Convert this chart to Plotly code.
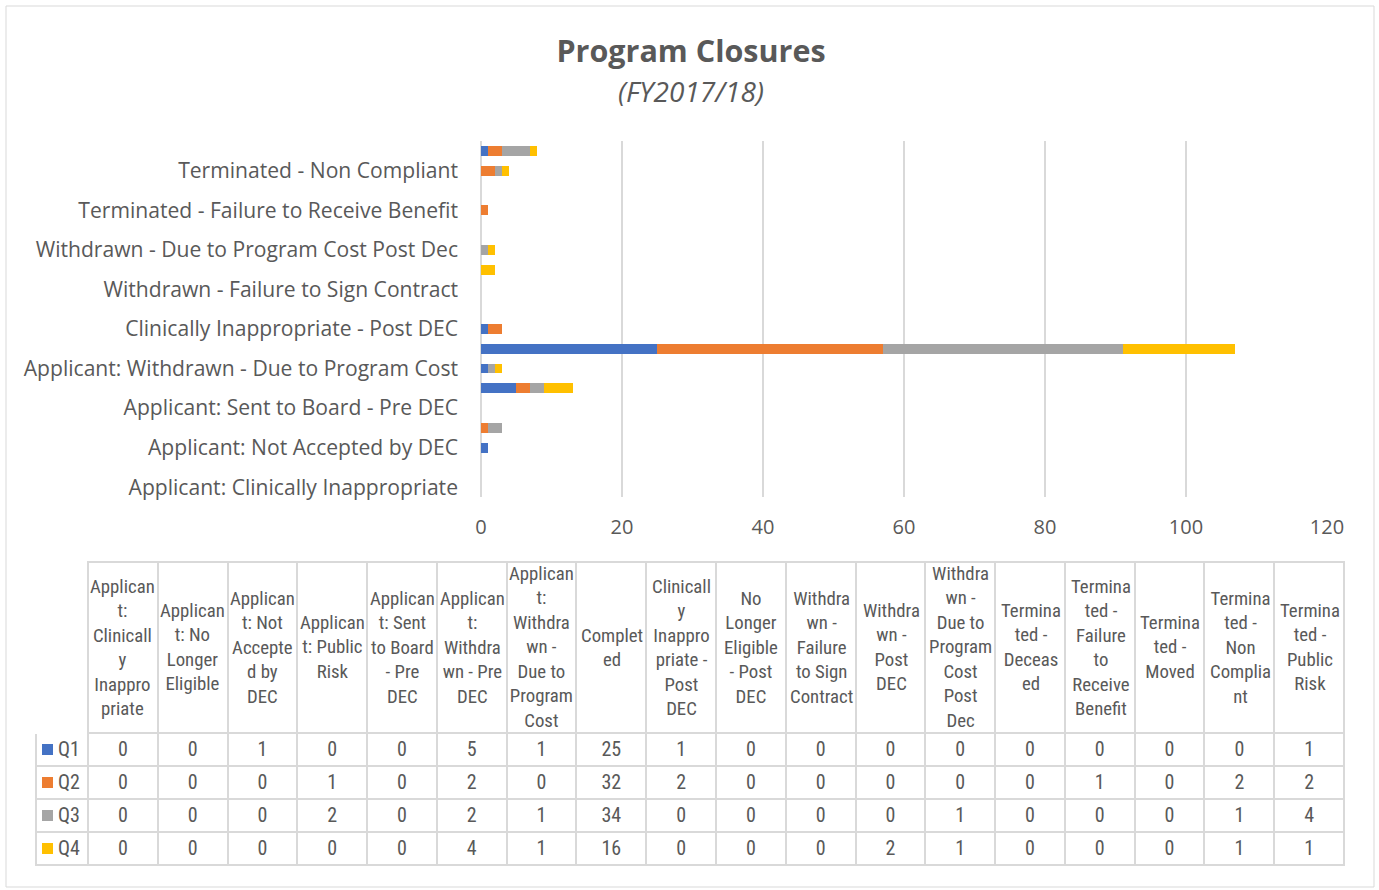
import plotly.graph_objects as go

# ── Data ──────────────────────────────────────────────────────────────────────
CATEGORIES = [
    "Applicant: Clinically Inappropriate",
    "Applicant: No Longer Eligible",
    "Applicant: Not Accepted by DEC",
    "Applicant: Public Risk",
    "Applicant: Sent to Board - Pre DEC",
    "Applicant: Withdrawn - Pre DEC",
    "Applicant: Withdrawn - Due to Program Cost",
    "Completed",
    "Clinically Inappropriate - Post DEC",
    "No Longer Eligible - Post DEC",
    "Withdrawn - Failure to Sign Contract",
    "Withdrawn - Post DEC",
    "Withdrawn - Due to Program Cost Post Dec",
    "Terminated - Deceased",
    "Terminated - Failure to Receive Benefit",
    "Terminated - Moved",
    "Terminated - Non Compliant",
    "Terminated - Public Risk",
]

# column headers as Excel wraps them in the data table
HEADER_LABELS = [
    "Applican<br>t:<br>Clinicall<br>y<br>Inappro<br>priate",
    "Applican<br>t: No<br>Longer<br>Eligible",
    "Applican<br>t: Not<br>Accepte<br>d by<br>DEC",
    "Applican<br>t: Public<br>Risk",
    "Applican<br>t: Sent<br>to Board<br>- Pre<br>DEC",
    "Applican<br>t:<br>Withdra<br>wn - Pre<br>DEC",
    "Applican<br>t:<br>Withdra<br>wn -<br>Due to<br>Program<br>Cost",
    "Complet<br>ed",
    "Clinicall<br>y<br>Inappro<br>priate -<br>Post<br>DEC",
    "No<br>Longer<br>Eligible<br>- Post<br>DEC",
    "Withdra<br>wn -<br>Failure<br>to Sign<br>Contract",
    "Withdra<br>wn -<br>Post<br>DEC",
    "Withdra<br>wn -<br>Due to<br>Program<br>Cost<br>Post<br>Dec",
    "Termina<br>ted -<br>Deceas<br>ed",
    "Termina<br>ted -<br>Failure<br>to<br>Receive<br>Benefit",
    "Termina<br>ted -<br>Moved",
    "Termina<br>ted -<br>Non<br>Complia<br>nt",
    "Termina<br>ted -<br>Public<br>Risk",
]

Q1 = [0, 0, 1, 0, 0, 5, 1, 25, 1, 0, 0, 0, 0, 0, 0, 0, 0, 1]
Q2 = [0, 0, 0, 1, 0, 2, 0, 32, 2, 0, 0, 0, 0, 0, 1, 0, 2, 2]
Q3 = [0, 0, 0, 2, 0, 2, 1, 34, 0, 0, 0, 0, 1, 0, 0, 0, 1, 4]
Q4 = [0, 0, 0, 0, 0, 4, 1, 16, 0, 0, 0, 2, 1, 0, 0, 0, 1, 1]

SERIES_NAMES = ["Q1", "Q2", "Q3", "Q4"]
SERIES_VALUES = [Q1, Q2, Q3, Q4]

# ── Style ─────────────────────────────────────────────────────────────────────
BLUE   = "#4472C4"
ORANGE = "#ED7D31"
GREY   = "#A5A5A5"
GOLD   = "#FFC000"
COLORS = [BLUE, ORANGE, GREY, GOLD]

TEXT   = "#595959"
GRID   = "#D9D9D9"
FONT   = "'Open Sans', 'Noto Sans', sans-serif"
NARROW = "'Liberation Sans Narrow', 'Roboto Condensed', 'DejaVu Sans Condensed', Roboto, sans-serif"

W, H = 1379, 890

# table geometry (pixels)
TBL_X0, TBL_KEY_W, TBL_COL_W = 36, 52, 69.83
TBL_Y0, TBL_HEAD_H, TBL_ROW_H = 562, 171, 33
KEY_SIZE = 11


def px_x(p):
    return p / W


def px_y(p):
    return 1 - p / H


fig = go.Figure()

for name, vals, col in zip(SERIES_NAMES, SERIES_VALUES, COLORS):
    fig.add_trace(go.Bar(
        name=name, y=CATEGORIES, x=vals, orientation="h",
        marker=dict(color=col, line=dict(width=0)),
        showlegend=False,
    ))

# data table under the chart (header text drawn as centred annotations)
ncol = len(CATEGORIES)
cell_cols = [SERIES_NAMES] + [[str(s[i]) for s in SERIES_VALUES] for i in range(ncol)]
tbl_x1 = TBL_X0 + TBL_KEY_W + TBL_COL_W * ncol
tbl_y1 = TBL_Y0 + TBL_HEAD_H + TBL_ROW_H * len(SERIES_NAMES)

fig.add_trace(go.Table(
    domain=dict(x=[px_x(TBL_X0), px_x(tbl_x1)], y=[px_y(tbl_y1 + 2), px_y(TBL_Y0)]),
    columnwidth=[TBL_KEY_W] + [TBL_COL_W] * ncol,
    header=dict(
        values=[""] * (ncol + 1), height=TBL_HEAD_H,
        fill_color="white",
        line=dict(color=["white"] + [GRID] * ncol, width=2),
    ),
    cells=dict(
        values=cell_cols, height=TBL_ROW_H,
        align=["right"] + ["center"] * ncol,
        fill_color="white",
        line=dict(color=GRID, width=2),
        font=dict(family=NARROW, size=20, color=TEXT),
    ),
))

annotations = [dict(
    text="<i>(FY2017/18)</i>", xref="paper", yref="paper",
    x=px_x(691), y=px_y(91), xanchor="center", yanchor="middle",
    showarrow=False, font=dict(family=FONT, size=28, color=TEXT),
)]
for i, lbl in enumerate(HEADER_LABELS):
    annotations.append(dict(
        text=lbl, xref="paper", yref="paper",
        x=px_x(TBL_X0 + TBL_KEY_W + TBL_COL_W * (i + 0.5)),
        y=px_y(TBL_Y0 + TBL_HEAD_H / 2),
        xanchor="center", yanchor="middle", align="center",
        showarrow=False, font=dict(family=NARROW, size=18.8, color=TEXT),
    ))

# legend keys in the first table column
shapes = [dict(
    type="rect", xref="paper", yref="paper",
    x0=px_x(6), x1=px_x(1374), y0=px_y(887), y1=px_y(6),
    line=dict(color=GRID, width=1), layer="below",
)]
for r, col in enumerate(COLORS):
    yc = TBL_Y0 + TBL_HEAD_H + TBL_ROW_H * (r + 0.5)
    shapes.append(dict(
        type="rect", xref="paper", yref="paper",
        x0=px_x(42), x1=px_x(42 + KEY_SIZE),
        y0=px_y(yc + KEY_SIZE / 2), y1=px_y(yc - KEY_SIZE / 2),
        fillcolor=col, line=dict(width=0), layer="above",
    ))

fig.update_layout(
    width=W, height=H,
    margin=dict(l=0, r=0, t=0, b=0, autoexpand=False),
    paper_bgcolor="white", plot_bgcolor="white",
    font=dict(family=FONT, size=20, color=TEXT),
    barmode="stack", bargap=0.5,
    title=dict(
        text="<b>Program Closures</b>", x=px_x(691), xanchor="center",
        y=px_y(51), yanchor="middle",
        font=dict(family=FONT, size=30.5, color=TEXT),
    ),
    xaxis=dict(
        domain=[px_x(481), px_x(1327)], range=[0, 120], dtick=20,
        showgrid=True, gridcolor=GRID, gridwidth=2,
        zeroline=True, zerolinecolor=GRID, zerolinewidth=2,
        showline=False, ticks="", ticklabelstandoff=16,
        tickfont=dict(size=20, color=TEXT), fixedrange=True, automargin=False,
    ),
    yaxis=dict(
        domain=[px_y(497), px_y(141)],
        type="category", categoryorder="array", categoryarray=CATEGORIES,
        tickvals=CATEGORIES[0::2], ticktext=CATEGORIES[0::2],
        showgrid=False, showline=False, ticks="", ticklabelstandoff=22,
        tickfont=dict(size=21.1, color=TEXT), fixedrange=True, automargin=False,
    ),
    annotations=annotations,
    shapes=shapes,
)

# drop the browser's default 8px body margin so the figure fills the window
fig.write_html("out.html", post_script="document.body.style.margin='0';",
               config={"displayModeBar": False})
